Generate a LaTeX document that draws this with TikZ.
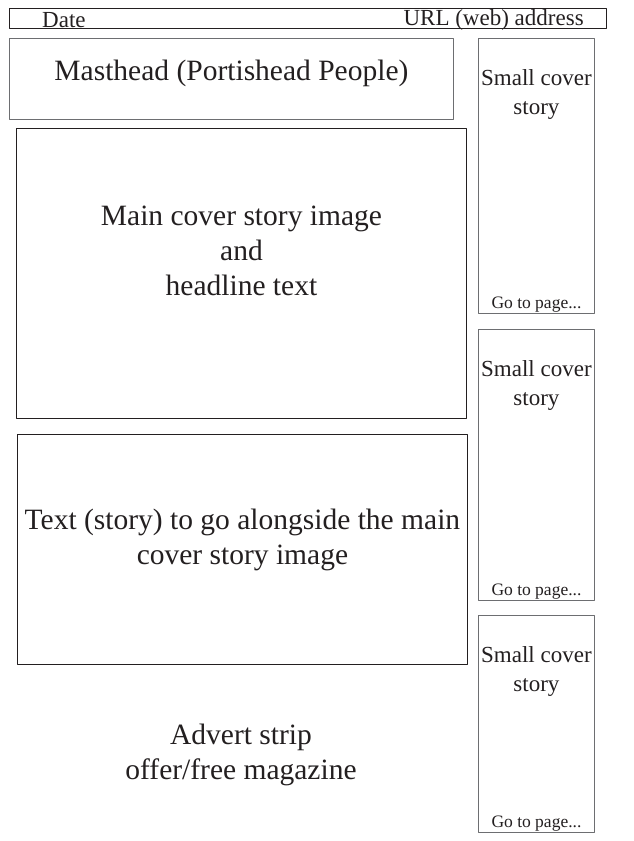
\documentclass[tikz,border=0pt]{standalone}
\usepackage{fontspec}
\setmainfont{Liberation Serif}
\usepackage{xcolor}
\usepackage{tikz}
\usetikzlibrary{positioning}
\definecolor{cvInk}{HTML}{231F20}
\definecolor{cvLine}{HTML}{6D6E71}
\tikzset{
  cv diagram/.style={x=1pt, y=-1pt, text=cvInk,
    line cap=round, line join=round},
  cv box/.style={draw=cvInk, line width=0.9pt, anchor=north west,
    inner sep=0pt, align=center},
  cv side box/.style={cv box, draw=cvLine},
  cv big/.style={font=\fontsize{29.5}{35}\selectfont, align=center, inner sep=0pt},
  cv label/.style={font=\fontsize{23}{29}\selectfont, align=center, inner sep=0pt},
  cv goto/.style={font=\fontsize{17.5}{20}\selectfont, inner sep=0pt}
}

\begin{document}
\begin{tikzpicture}[cv diagram]
\useasboundingbox (0,0) rectangle (633,841);
% header strip
\node[cv box, minimum width=597, minimum height=20] (topbar) at (9,8) {};
\node[cv label, anchor=west] (date) at ([xshift=33pt,yshift=-2pt]topbar.west) {Date};
\node[cv label, anchor=east] (url) at ([xshift=-23pt,yshift=-2pt]topbar.east) {URL (web) address};
% left column
\node[cv side box, minimum width=444, minimum height=81] (masthead) at (9,38) {};
\node[cv big] (mastext) at ([yshift=6pt]masthead.center) {Masthead (Portishead People)};
\node[cv box, minimum width=450, minimum height=290] (mainimg) at (16,128) {};
\node[cv big] (maintext) at ([yshift=23pt]mainimg.center) {Main cover story image\\and\\headline text};
\node[cv box, minimum width=450, minimum height=230] (story) at (17,434) {};
\node[cv big] (storytext) at ([yshift=10pt]story.center) {Text (story) to go alongside the main\\cover story image};
\node[cv big] (advert) at (241,755) {Advert strip\\offer/free magazine};
% right column
\node[cv side box, minimum width=116, minimum height=275] (side1) at (478,38) {};
\node[cv side box, minimum width=116, minimum height=271] (side2) at (478,329) {};
\node[cv side box, minimum width=116, minimum height=217] (side3) at (478,615) {};
\node[cv label, anchor=north] (head1) at ([yshift=-31pt]side1.north) {Small cover\\story};
\node[cv label, anchor=north] (head2) at ([yshift=-31pt]side2.north) {Small cover\\story};
\node[cv label, anchor=north] (head3) at ([yshift=-31pt]side3.north) {Small cover\\story};
\node[cv goto, anchor=south] (goto1) at ([yshift=1.5pt]side1.south) {Go to page...};
\node[cv goto, anchor=south] (goto2) at ([yshift=1.5pt]side2.south) {Go to page...};
\node[cv goto, anchor=south] (goto3) at ([yshift=1.5pt]side3.south) {Go to page...};
\end{tikzpicture}
\end{document}
